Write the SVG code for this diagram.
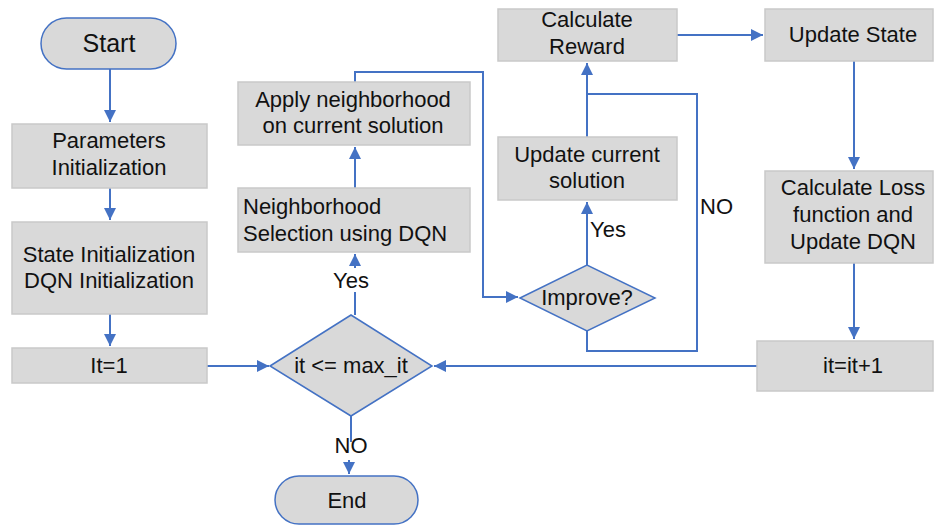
<svg xmlns="http://www.w3.org/2000/svg" width="940" height="527" viewBox="0 0 940 527">
<defs>
<marker id="ah" markerUnits="userSpaceOnUse" markerWidth="13" markerHeight="12" refX="12" refY="6" orient="auto">
<path d="M0,0 L12,6 L0,12 z" fill="#4472c4"/>
</marker>
<style>
.box{fill:#d9d9d9;stroke:#c9c9c9;stroke-width:1.5}
.term{fill:#d9d9d9;stroke:#4472c4;stroke-width:1.5}
.t{font-family:"Liberation Sans",Arial,sans-serif;font-size:22px;fill:#111;text-anchor:middle}
.tl{font-family:"Liberation Sans",Arial,sans-serif;font-size:22px;fill:#111}
.c{fill:none;stroke:#4472c4;stroke-width:2}
</style>
</defs>
<rect width="940" height="527" fill="#fff"/>
<g id="connectors">
<path class="c" d="M110,69 V122" marker-end="url(#ah)"/>
<path class="c" d="M110,188 V220" marker-end="url(#ah)"/>
<path class="c" d="M110,314 V346" marker-end="url(#ah)"/>
<path class="c" d="M207,366 H269" marker-end="url(#ah)"/>
<path class="c" d="M757,366 H434" marker-end="url(#ah)"/>
<path class="c" d="M351,416 V442 M349,460 V474" marker-end="url(#ah)"/>
<path class="c" d="M355,315 V292 M355,268 V254" marker-end="url(#ah)"/>
<path class="c" d="M355,188 V147" marker-end="url(#ah)"/>
<path class="c" d="M355,82 V72 H483 V297 H518" marker-end="url(#ah)"/>
<path class="c" d="M587,265 V202" marker-end="url(#ah)"/>
<path class="c" d="M587,137 V63" marker-end="url(#ah)"/>
<path class="c" d="M587,331 V351 H697 V94 H587"/>
<path class="c" d="M677,35 H763" marker-end="url(#ah)"/>
<path class="c" d="M854,61 V169" marker-end="url(#ah)"/>
<path class="c" d="M854,263 V339" marker-end="url(#ah)"/>
<text class="t" x="351" y="288">Yes</text>
<text class="t" x="351" y="453">NO</text>
<text class="tl" x="590" y="237">Yes</text>
<text class="tl" x="700" y="214">NO</text>
</g>
<g id="start">
<rect class="term" x="41" y="18" width="135" height="51" rx="25.5"/>
<text class="t" x="109" y="52" style="font-size:25px">Start</text>
</g>
<g id="params">
<rect class="box" x="12" y="124" width="195" height="64"/>
<text class="t" x="109" y="148">Parameters</text>
<text class="t" x="109" y="175">Initialization</text>
</g>
<g id="stateinit">
<rect class="box" x="12" y="222" width="195" height="92"/>
<text class="t" x="109" y="262">State Initialization</text>
<text class="t" x="109" y="288">DQN Initialization</text>
</g>
<g id="it1">
<rect class="box" x="12" y="348" width="195" height="35"/>
<text class="t" x="109" y="373">It=1</text>
</g>
<g id="cond">
<polygon class="term" points="270,366 351,315 432,366 351,416"/>
<text class="t" x="351" y="373">it &lt;= max_it</text>
</g>
<g id="end">
<rect class="term" x="275" y="476" width="143" height="48" rx="24"/>
<text class="t" x="347" y="508">End</text>
</g>
<g id="nsel">
<rect class="box" x="238" y="188" width="232" height="64"/>
<text class="tl" x="243" y="214">Neighborhood</text>
<text class="tl" x="243" y="241">Selection using DQN</text>
</g>
<g id="apply">
<rect class="box" x="238" y="82" width="232" height="63"/>
<text class="t" x="353" y="107">Apply neighborhood</text>
<text class="t" x="353" y="133">on current solution</text>
</g>
<g id="improve">
<polygon class="term" points="520,298 587,265 655,298 587,331"/>
<text class="t" x="587" y="305">Improve?</text>
</g>
<g id="updsol">
<rect class="box" x="498" y="137" width="179" height="63"/>
<text class="t" x="587" y="162">Update current</text>
<text class="t" x="587" y="188">solution</text>
</g>
<g id="reward">
<rect class="box" x="498" y="9" width="179" height="52"/>
<text class="t" x="587" y="27">Calculate</text>
<text class="t" x="587" y="54">Reward</text>
</g>
<g id="updstate">
<rect class="box" x="765" y="9" width="168" height="52"/>
<text class="t" x="853" y="42">Update State</text>
</g>
<g id="loss">
<rect class="box" x="765" y="171" width="168" height="92"/>
<text class="t" x="853" y="195">Calculate Loss</text>
<text class="t" x="853" y="222">function and</text>
<text class="t" x="853" y="249">Update DQN</text>
</g>
<g id="incr">
<rect class="box" x="757" y="341" width="176" height="50"/>
<text class="t" x="853" y="373">it=it+1</text>
</g>
</svg>
